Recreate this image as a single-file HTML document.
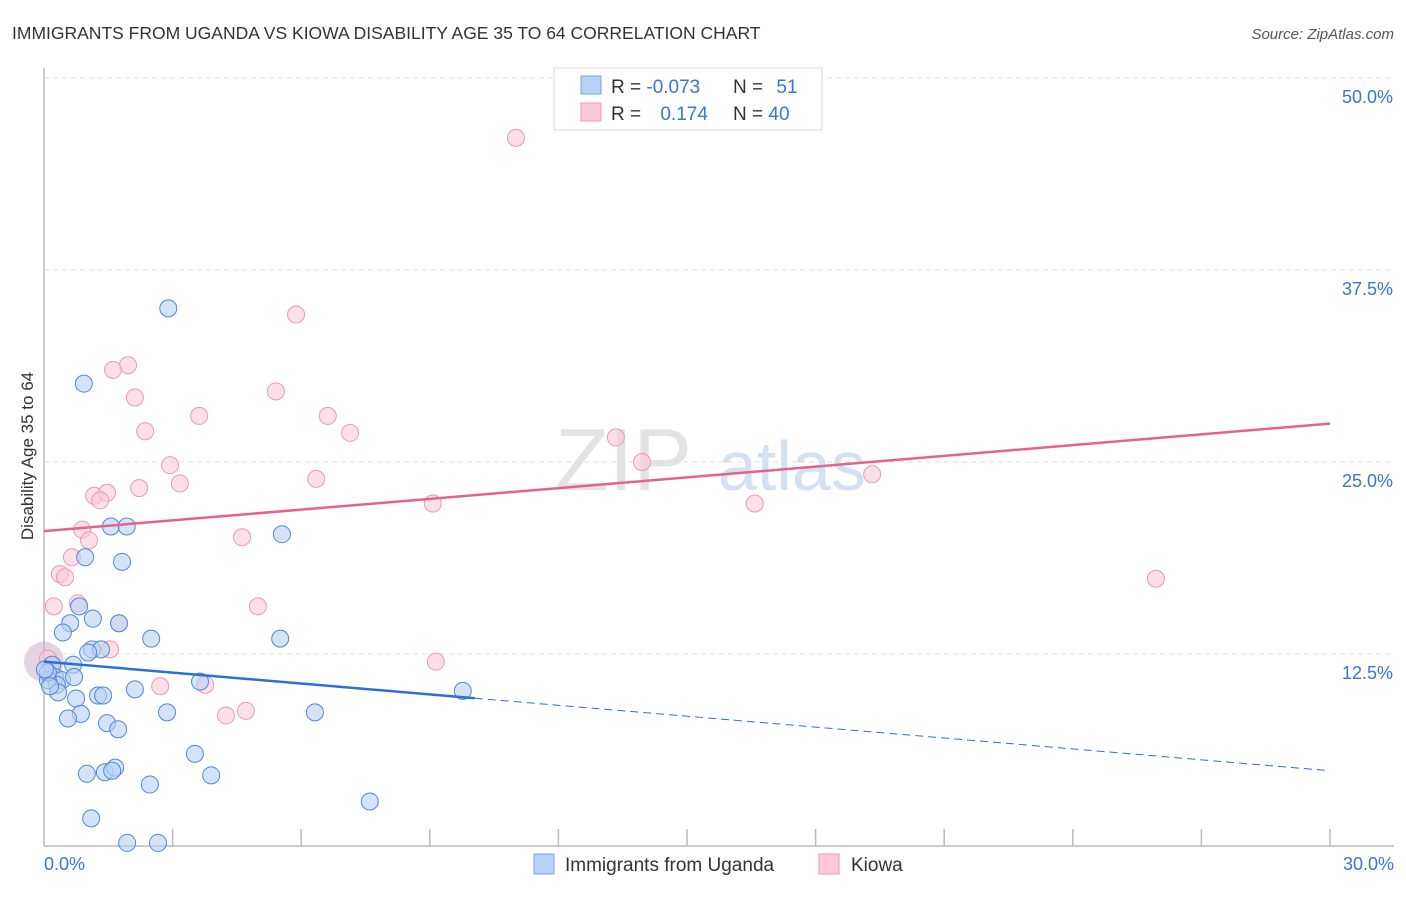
<!DOCTYPE html>
<html><head><meta charset="utf-8"><style>
body{margin:0;background:#fff;font-family:"Liberation Sans",sans-serif;}
svg text{font-family:"Liberation Sans",sans-serif;}
</style></head><body>
<svg id="chart" width="1406" height="892" xmlns="http://www.w3.org/2000/svg">
<text x="12" y="39" font-size="17.5" fill="#333">IMMIGRANTS FROM UGANDA VS KIOWA DISABILITY AGE 35 TO 64 CORRELATION CHART</text>
<text x="1394" y="39" font-size="15" fill="#555" text-anchor="end" font-style="italic">Source: ZipAtlas.com</text>
<text transform="translate(33,456) rotate(-90)" font-size="17" fill="#333" text-anchor="middle">Disability Age 35 to 64</text>
<text x="555" y="490" font-size="88" fill="#ddd" font-family="Liberation Serif" opacity="0.8">ZIP</text>
<text x="718" y="490" font-size="70" fill="#c9dbf1" opacity="0.8">atlas</text>
<g id="grid"></g><g id="pts"></g><g id="lines"></g>
<g>
<rect x="554" y="68" width="268" height="62" fill="#fff" stroke="#ddd"/>
<rect x="581" y="76" width="20" height="18" fill="#b7d1f4" stroke="#7aa6e6"/>
<rect x="581" y="103" width="20" height="18" fill="#fcc9d8" stroke="#ec9ab3"/>
<text x="611" y="93" font-size="19" fill="#333">R = <tspan fill="#3a74d4">-0.073</tspan></text>
<text x="733" y="93" font-size="19" fill="#333">N = <tspan fill="#3a74d4" dx="8">51</tspan></text>
<text x="611" y="120" font-size="19" fill="#333">R = <tspan fill="#3a74d4" dx="14">0.174</tspan></text>
<text x="733" y="120" font-size="19" fill="#333">N = <tspan fill="#3a74d4">40</tspan></text>
</g>
<g>
<rect x="534" y="854" width="20" height="20" fill="#b7d1f4" stroke="#7aa6e6"/>
<text x="565" y="871" font-size="19" fill="#333">Immigrants from Uganda</text>
<rect x="819" y="854" width="20" height="20" fill="#fcc9d8" stroke="#ec9ab3"/>
<text x="851" y="871" font-size="19" fill="#333">Kiowa</text>
</g>
</svg>
<script>
const yTicks=[12.5,25,37.5,50];
const yTickLabels=["12.5%","25.0%","37.5%","50.0%"];
const xTickLabels=["0.0%","30.0%"];
const ugandaX=[2.9,0.93,1.56,1.93,5.55,0.96,1.82,0.82,1.14,0.61,1.75,0.44,2.5,5.51,1.12,1.33,1.03,0.68,0.19,0.26,0.42,0.7,0.3,0.09,3.64,2.12,1.26,0.33,1.38,0.75,2.87,6.32,0.86,0.56,1.47,1.73,3.52,1.0,1.42,1.66,1.59,3.9,2.47,7.6,1.1,1.94,2.66,9.77,0.09,0.02,0.14];
const ugandaY=[35.0,30.1,20.8,20.8,20.3,18.8,18.5,15.6,14.8,14.5,14.5,13.9,13.5,13.5,12.8,12.8,12.6,11.8,11.8,11.0,10.8,11.0,10.5,10.8,10.7,10.2,9.8,10.0,9.8,9.6,8.7,8.7,8.6,8.3,8.0,7.6,6.0,4.7,4.8,5.1,4.9,4.6,4.0,2.9,1.8,0.2,0.2,10.1,11.3,11.5,10.4];
const kiowaX=[11.01,5.88,1.96,1.61,5.41,2.12,3.62,6.62,2.36,7.14,13.34,2.94,13.95,6.35,3.17,2.22,1.17,1.47,1.31,9.07,16.58,19.32,0.89,1.05,4.62,0.65,0.37,0.49,0.23,0.79,4.99,25.94,1.75,1.54,9.14,2.71,3.76,4.71,4.245,0.09];
const kiowaY=[46.1,34.6,31.3,31.0,29.6,29.2,28.0,28.0,27.0,26.9,26.6,24.8,25.0,23.9,23.6,23.3,22.8,23.0,22.5,22.3,22.3,24.2,20.6,19.9,20.1,18.8,17.7,17.5,15.6,15.8,15.6,17.4,14.5,12.8,12.0,10.4,10.5,8.8,8.5,12.2];
const ugandaTrend=[12.0,4.9], kiowaTrend=[20.5,27.5];
const X0=44,X1=1330,Y0=846,PX=(X1-X0)/30,PY=15.36;
const xs=v=>X0+v*PX, ys=v=>Y0-v*PY;
const NS="http://www.w3.org/2000/svg";
function mk(tag,attrs,parent){const e=document.createElementNS(NS,tag);for(const k in attrs)e.setAttribute(k,attrs[k]);document.getElementById(parent).appendChild(e);return e;}
let ax=mk('line',{x1:X0,y1:68,x2:X0,y2:Y0,stroke:'#bbb','stroke-width':1.5},'grid');


let bx=mk('line',{x1:X0,y1:Y0,x2:1394,y2:Y0,stroke:'#bbb','stroke-width':1.5},'grid');


yTicks.forEach((t,i)=>{
 const g=mk('line',{x1:X0,y1:ys(t),x2:1394,y2:ys(t),stroke:'#ddd','stroke-dasharray':'5,4'},'grid');
 
 
 const tx=mk('text',{x:1393,y:ys(t)+25,'font-size':18,fill:'#3a74d4','text-anchor':'end'},'grid');
 tx.textContent=yTickLabels[i];
 
 
});
for(let i=1;i<=10;i++){
 const t=mk('line',{x1:xs(i*3),y1:829,x2:xs(i*3),y2:Y0,stroke:'#bbb','stroke-width':1.5},'grid');
 
 
}
[[0,'start',X0],[30,'end',1394]].forEach((d,i)=>{
 const tx=mk('text',{x:d[2],y:870,'font-size':18,fill:'#3a74d4','text-anchor':d[1]},'grid');
 tx.textContent=xTickLabels[i];
 
 
});
let big=mk('circle',{cx:X0,cy:ys(12.0),r:20,fill:'#c7a8c8',opacity:0.5},'pts');


kiowaX.forEach((x,i)=>{
 const c=mk('circle',{cx:xs(x),cy:ys(kiowaY[i]),r:8.5,fill:'#fcc9d8','fill-opacity':0.6,stroke:'#ec9ab3','stroke-width':1},'pts');
 
 
});
ugandaX.forEach((x,i)=>{
 const c=mk('circle',{cx:xs(x),cy:ys(ugandaY[i]),r:8.5,fill:'#b7d1f4','fill-opacity':0.6,stroke:'#4f88dc','stroke-width':1},'pts');
 
 
});
const bxEnd=10.05, byEnd=ugandaTrend[0]+(ugandaTrend[1]-ugandaTrend[0])*bxEnd/30;
let l1=mk('line',{x1:xs(0),y1:ys(ugandaTrend[0]),x2:xs(bxEnd),y2:ys(byEnd),stroke:'#2c6fd6','stroke-width':2.5},'lines');


let l2=mk('line',{x1:xs(bxEnd),y1:ys(byEnd),x2:xs(30),y2:ys(ugandaTrend[1]),stroke:'#2c6fd6','stroke-width':1,'stroke-dasharray':'8,5'},'lines');


let l3=mk('line',{x1:xs(0),y1:ys(kiowaTrend[0]),x2:xs(30),y2:ys(kiowaTrend[1]),stroke:'#e5628d','stroke-width':2.5},'lines');


</script>
</body></html>
